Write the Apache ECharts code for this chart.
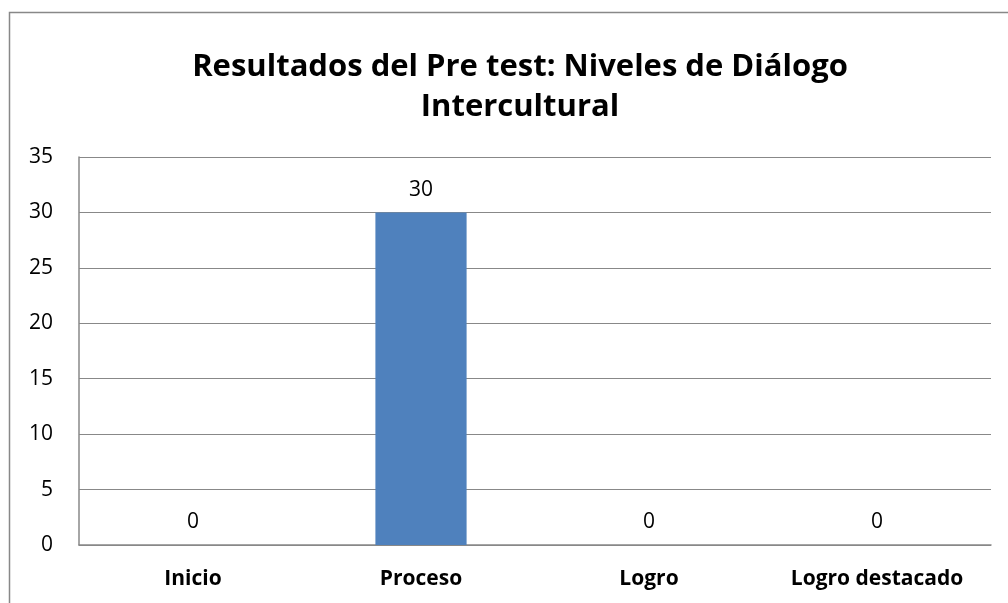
<!DOCTYPE html>
<html>
<head>
<meta charset="utf-8">
<script src="https://cdn.jsdelivr.net/npm/echarts@6/dist/echarts.min.js"></script>
<style>
  html, body { margin: 0; padding: 0; background: #fff; }
  #chart { width: 1008px; height: 603px; }
</style>
</head>
<body>
<div id="chart"></div>
<script>
var categories = ['Inicio', 'Proceso', 'Logro', 'Logro destacado']
var values = [0, 30, 0, 0]
var yTicks = { min: 0, max: 35, interval: 5 }

var chart = echarts.init(document.getElementById('chart'))
var font = 'Open Sans'

chart.setOption({
  animation: false,
  graphic: [{
    type: 'rect',
    shape: { x: 9.5, y: 12.5, width: 1010, height: 600 },
    style: { fill: 'none', stroke: '#888', lineWidth: 1.5 }
  }],
  title: {
    text: 'Resultados del Pre test: Niveles de Diálogo\nIntercultural',
    left: 515,
    textAlign: 'center',
    top: 42,
    textStyle: {
      fontFamily: font,
      fontSize: 31,
      fontWeight: 'bold',
      color: '#000',
      lineHeight: 40
    }
  },
  grid: {
    left: 79,
    right: 17,
    top: 157,
    bottom: 58,
    containLabel: false
  },
  xAxis: {
    type: 'category',
    data: categories,
    axisLine: { lineStyle: { color: '#888', width: 1.5 } },
    axisTick: { show: false },
    axisLabel: {
      fontFamily: font,
      fontSize: 21,
      fontWeight: 'bold',
      color: '#000',
      margin: 24
    }
  },
  yAxis: {
    type: 'value',
    min: yTicks.min,
    max: yTicks.max,
    interval: yTicks.interval,
    axisLine: { show: true, lineStyle: { color: '#888', width: 1.5 } },
    axisTick: { show: false },
    splitLine: { lineStyle: { color: '#888', width: 1.2 } },
    axisLabel: {
      fontFamily: font,
      fontSize: 21,
      color: '#000',
      margin: 26
    }
  },
  series: [{
    type: 'bar',
    data: values,
    barWidth: '40%',
    itemStyle: { color: '#4F81BD' },
    label: {
      show: true,
      position: 'top',
      distance: 12,
      fontFamily: font,
      fontSize: 21,
      color: '#000'
    }
  }]
})
</script>
</body>
</html>
